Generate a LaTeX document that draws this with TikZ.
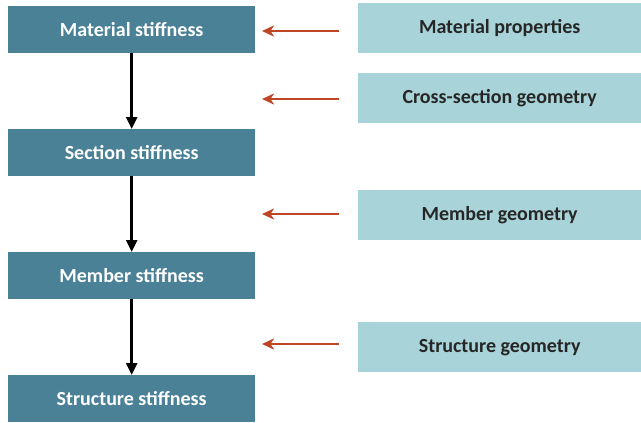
\documentclass[tikz,border=0pt]{standalone}
\usepackage{fontspec}
\setmainfont{Carlito}
\usetikzlibrary{arrows.meta}
\definecolor{darkteal}{HTML}{4A8197}
\definecolor{lightteal}{HTML}{A8D4D9}
\definecolor{feedred}{HTML}{BF4527}
\tikzset{
  stagebox/.style={draw=none, fill=darkteal, text=white, font=\bfseries\fontsize{20}{24}\selectfont,
    minimum width=247pt, minimum height=47pt, inner sep=0pt, anchor=north west},
  inputbox/.style={draw=none, fill=lightteal, text=black!85, font=\bfseries\fontsize{20}{24}\selectfont,
    minimum width=283pt, minimum height=50pt, inner sep=0pt, anchor=north west},
  flow/.style={draw=black, line width=2.6pt, -{Triangle[length=12pt,width=11pt]}},
  feed/.style={draw=feedred, line width=2pt, -{Stealth[length=12pt,width=11pt,inset=3.5pt]}}
}
\begin{document}
\begin{tikzpicture}[x=1pt,y=-1pt]
\useasboundingbox (0,0) rectangle (641,423);
% stiffness stages
\node[stagebox] (mat) at (8,6) {Material stiffness};
\node[stagebox] (sec) at (8,129) {Section stiffness};
\node[stagebox] (mem) at (8,252) {Member stiffness};
\node[stagebox] (str) at (8,375) {Structure stiffness};
% input quantities
\node[inputbox] (mp) at (358,3) {Material properties};
\node[inputbox] (cs) at (358,73) {Cross-section geometry};
\node[inputbox] (mg) at (358,190) {Member geometry};
\node[inputbox] (sg) at (358,322) {Structure geometry};
% downward flow
\draw[flow] (mat.south) -- (sec.north);
\draw[flow] (sec.south) -- (mem.north);
\draw[flow] (mem.south) -- (str.north);
% input arrows
\coordinate (a1s) at (339,31);  \coordinate (a1e) at (262,31);
\coordinate (a2s) at (339,99);  \coordinate (a2e) at (262,99);
\coordinate (a3s) at (339,214); \coordinate (a3e) at (262,214);
\coordinate (a4s) at (339,344); \coordinate (a4e) at (262,344);
\draw[feed] (a1s) -- (a1e);
\draw[feed] (a2s) -- (a2e);
\draw[feed] (a3s) -- (a3e);
\draw[feed] (a4s) -- (a4e);
\end{tikzpicture}
\end{document}
